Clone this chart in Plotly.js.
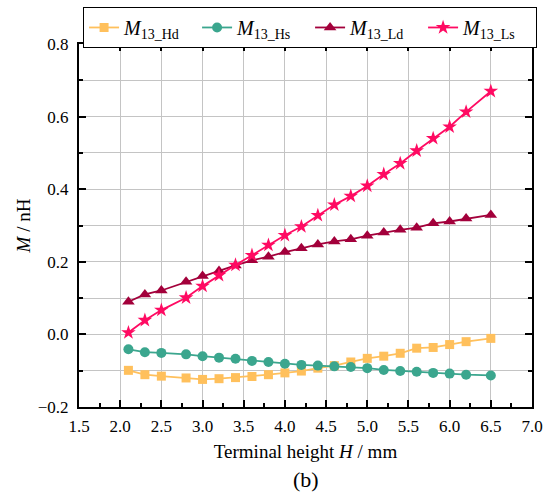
<!DOCTYPE html>
<html>
<head>
<meta charset="utf-8">
<script src="https://cdn.plot.ly/plotly-3.0.1.min.js"></script>
<style>html,body{margin:0;padding:0;background:#fff;}#chart{width:554px;height:497px;}</style>
</head>
<body>
<div id="chart"></div>
<script>
const heightH = [2.1, 2.3, 2.5, 2.8, 3.0, 3.2, 3.4, 3.6, 3.8, 4.0, 4.2, 4.4, 4.6, 4.8, 5.0, 5.2, 5.4, 5.6, 5.8, 6.0, 6.2, 6.5];
const m13Hd = [-0.099, -0.111, -0.115, -0.120, -0.124, -0.122, -0.119, -0.116, -0.111, -0.106, -0.101, -0.093, -0.086, -0.076, -0.066, -0.060, -0.052, -0.038, -0.036, -0.028, -0.020, -0.011];
const m13Hs = [-0.041, -0.049, -0.051, -0.055, -0.060, -0.064, -0.067, -0.073, -0.076, -0.081, -0.084, -0.086, -0.088, -0.090, -0.093, -0.098, -0.101, -0.103, -0.106, -0.108, -0.111, -0.113];
const m13Ld = [0.090, 0.110, 0.121, 0.145, 0.161, 0.175, 0.190, 0.204, 0.214, 0.227, 0.237, 0.248, 0.256, 0.262, 0.272, 0.281, 0.288, 0.294, 0.306, 0.311, 0.319, 0.329];
const m13Ls = [0.005, 0.039, 0.067, 0.101, 0.133, 0.163, 0.191, 0.218, 0.246, 0.273, 0.297, 0.328, 0.357, 0.381, 0.409, 0.441, 0.471, 0.506, 0.540, 0.572, 0.613, 0.670];
const seriesNames = ['<i>M</i><sub>13_Hd</sub>', '<i>M</i><sub>13_Hs</sub>', '<i>M</i><sub>13_Ld</sub>', '<i>M</i><sub>13_Ls</sub>'];
const colors = ['#FFC05C', '#3BA68E', '#A3003B', '#FF0A62'];
const symbols = ['square', 'circle', 'triangle-up', 'star'];
const sizes = [9, 10, 11, 11];
const allY = [m13Hd, m13Hs, m13Ld, m13Ls];

const font = '"Liberation Serif", "Times New Roman", serif';
const traces = allY.map((ys, i) => ({
  x: heightH, y: ys, name: seriesNames[i], type: 'scatter', mode: 'lines+markers',
  line: {color: colors[i], width: 1.8},
  marker: {color: colors[i], symbol: symbols[i], size: sizes[i]}
}));

const axisCommon = {
  showline: true, linecolor: '#000', linewidth: 2, mirror: 'ticks',
  ticks: 'inside', ticklen: 7, tickwidth: 2, tickcolor: '#000',
  showgrid: true, gridcolor: '#c4c4c4', gridwidth: 1, zeroline: false,
  tickfont: {family: font, size: 17, color: '#000'}
};

const layout = {
  width: 554, height: 497,
  margin: {l: 79, r: 22, t: 44, b: 90, autoexpand: false},
  paper_bgcolor: '#fff', plot_bgcolor: '#fff',
  font: {family: font, color: '#000'},
  showlegend: true,
  legend: {
    orientation: 'h', x: 0.009, xanchor: 'left', y: 1.102, yanchor: 'top',
    bordercolor: '#000', borderwidth: 1, bgcolor: '#fff',
    font: {family: font, size: 20, color: '#000'},
    entrywidth: 68, entrywidthmode: 'pixels', itemwidth: 30, tracegroupgap: 0
  },
  xaxis: Object.assign({}, axisCommon, {
    range: [1.5, 7.0], tick0: 1.5, dtick: 0.5, tickformat: '.1f', ticklabelstandoff: 3,
    minor: {dtick: 0.25, ticklen: 4, tickwidth: 2, tickcolor: '#000', ticks: 'inside', showgrid: false},
    title: {text: 'Terminal height <i>H</i> / mm', font: {family: font, size: 19, color: '#000'}, standoff: 9}
  }),
  yaxis: Object.assign({}, axisCommon, {
    range: [-0.2, 0.8], tick0: -0.2, dtick: 0.2, tickformat: '.1f', ticklabelstandoff: 5,
    minor: {dtick: 0.1, ticklen: 4, tickwidth: 2, tickcolor: '#000', ticks: 'inside', showgrid: true, gridcolor: '#c4c4c4', gridwidth: 1},
    title: {text: '<i>M</i> / nH', font: {family: font, size: 19, color: '#000'}, standoff: 2}
  }),
  annotations: [{
    text: '(b)', xref: 'paper', yref: 'paper', x: 0.5, y: -0.2, xanchor: 'center', yanchor: 'middle',
    showarrow: false, font: {family: font, size: 22, color: '#000'}
  }]
};

Plotly.newPlot('chart', traces, layout, {displayModeBar: false, staticPlot: true});
</script>
</body>
</html>
